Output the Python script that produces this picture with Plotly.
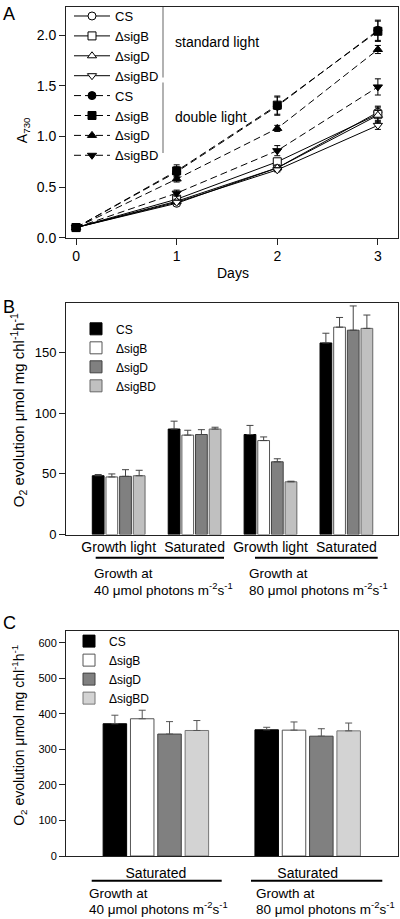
import plotly.graph_objects as go

# ---------------- data ----------------
days = [0, 1, 2, 3]
strains = ["CS", "ΔsigB", "ΔsigD", "ΔsigBD"]

# Panel A: A730, standard light (open symbols, solid lines)
std_cs = [0.10, 0.34, 0.69, 1.24]
std_sigb = [0.10, 0.38, 0.75, 1.22]
std_sigd = [0.10, 0.36, 0.69, 1.21]
std_sigbd = [0.10, 0.35, 0.67, 1.11]
std_cs_err = [0.01, 0.02, 0.03, 0.05]
std_sigb_err = [0.01, 0.03, 0.03, 0.08]
std_sigd_err = [0.01, 0.02, 0.03, 0.05]
std_sigbd_err = [0.01, 0.02, 0.02, 0.04]

# Panel A: double light (filled symbols, dashed lines)
dbl_cs = [0.10, 0.65, 1.30, 2.05]
dbl_sigb = [0.10, 0.66, 1.31, 2.04]
dbl_sigd = [0.10, 0.58, 1.08, 1.86]
dbl_sigbd = [0.10, 0.44, 0.86, 1.49]
dbl_cs_err = [0.01, 0.05, 0.09, 0.10]
dbl_sigb_err = [0.01, 0.06, 0.09, 0.10]
dbl_sigd_err = [0.01, 0.03, 0.03, 0.04]
dbl_sigbd_err = [0.01, 0.03, 0.05, 0.08]

# Panel B: O2 evolution
b_categories = ["Growth light", "Saturated", "Growth light", "Saturated"]
b_cs = [48.5, 87.0, 82.5, 158.0]
b_sigb = [47.5, 82.0, 77.5, 171.0]
b_sigd = [48.0, 82.5, 60.0, 168.5]
b_sigbd = [48.5, 87.0, 43.5, 170.0]
b_cs_err = [1.0, 6.5, 7.5, 8.0]
b_sigb_err = [2.5, 4.0, 3.0, 8.0]
b_sigd_err = [5.5, 4.0, 2.5, 20.0]
b_sigbd_err = [4.5, 1.5, 0.5, 11.0]

# Panel C: O2 evolution
c_categories = ["Saturated", "Saturated"]
c_cs = [372, 355]
c_sigb = [386, 354]
c_sigd = [343, 337]
c_sigbd = [353, 352]
c_cs_err = [24, 7]
c_sigb_err = [24, 23]
c_sigd_err = [35, 21]
c_sigbd_err = [28, 22]

growth_light = ["40", "80"]

# ---------------- layout helpers ----------------
W, H = 400, 919
ML, MR, MT, MB = 66, 2, 1, 63
PW = W - ML - MR
PH = H - MT - MB
FONT = "Arial, Liberation Sans, sans-serif"


def px_x(x):
    return (x - ML) / PW


def px_y(y):
    return (H - MB - y) / PH


fig = go.Figure()

# ---------------- Panel A ----------------
std_series = [std_cs, std_sigb, std_sigd, std_sigbd]
std_errs = [std_cs_err, std_sigb_err, std_sigd_err, std_sigbd_err]
dbl_series = [dbl_cs, dbl_sigb, dbl_sigd, dbl_sigbd]
dbl_errs = [dbl_cs_err, dbl_sigb_err, dbl_sigd_err, dbl_sigbd_err]
fill_symbols = ["circle", "square", "triangle-up", "triangle-down"]

for name, ys, es, sym in zip(strains, std_series, std_errs, fill_symbols):
    fig.add_trace(go.Scatter(
        x=days, y=ys, name=name, mode="lines+markers",
        line=dict(color="black", width=1),
        marker=dict(symbol=sym, size=8, color="white", line=dict(color="black", width=1)),
        error_y=dict(type="data", array=es, color="black", thickness=1, width=3),
        xaxis="x", yaxis="y", legend="legend",
    ))
for name, ys, es, sym in zip(strains, dbl_series, dbl_errs, fill_symbols):
    fig.add_trace(go.Scatter(
        x=days, y=ys, name=name, mode="lines+markers",
        line=dict(color="black", width=1, dash="7px,4px"),
        marker=dict(symbol=sym, size=8, color="black", line=dict(color="black", width=1)),
        error_y=dict(type="data", array=es, color="black", thickness=1, width=3),
        xaxis="x", yaxis="y", legend="legend",
    ))

# ---------------- Panel B ----------------
b_x = list(range(len(b_categories)))
b_series = [b_cs, b_sigb, b_sigd, b_sigbd]
b_errs = [b_cs_err, b_sigb_err, b_sigd_err, b_sigbd_err]
b_fill = ["#000000", "#ffffff", "#808080", "#c0c0c0"]
b_edge = ["#000000", "#555555", "#404040", "#666666"]
for name, ys, es, fc, ec in zip(strains, b_series, b_errs, b_fill, b_edge):
    fig.add_trace(go.Bar(
        x=b_x, y=ys, name=name,
        marker=dict(color=fc, line=dict(color=ec, width=1)),
        error_y=dict(type="data", symmetric=False, array=es, arrayminus=[0] * len(es),
                     color="#444444", thickness=1, width=3.5),
        xaxis="x2", yaxis="y2", legend="legend2",
    ))

# ---------------- Panel C ----------------
c_x = list(range(len(c_categories)))
c_series = [c_cs, c_sigb, c_sigd, c_sigbd]
c_errs = [c_cs_err, c_sigb_err, c_sigd_err, c_sigbd_err]
c_fill = ["#000000", "#ffffff", "#808080", "#d3d3d3"]
c_edge = ["#000000", "#555555", "#404040", "#777777"]
for name, ys, es, fc, ec in zip(strains, c_series, c_errs, c_fill, c_edge):
    fig.add_trace(go.Bar(
        x=c_x, y=ys, name=name,
        marker=dict(color=fc, line=dict(color=ec, width=1)),
        error_y=dict(type="data", symmetric=False, array=es, arrayminus=[0] * len(es),
                     color="#555555", thickness=1, width=3.5),
        xaxis="x3", yaxis="y3", legend="legend3",
    ))

axis_common = dict(showline=True, linecolor="#222222", linewidth=1, mirror=True,
                   showgrid=False, zeroline=False)

fig.update_layout(
    width=W, height=H,
    margin=dict(l=ML, r=MR, t=MT, b=MB),
    paper_bgcolor="white", plot_bgcolor="white",
    font=dict(family=FONT, color="black", size=13),
    barmode="group", bargap=0.28, bargroupgap=0.14,
    xaxis=dict(domain=[0, 1], anchor="y", range=[-0.1, 3.2], tickvals=days,
               ticks="outside", ticklen=6, tickcolor="#222222",
               tickfont=dict(size=14), **axis_common),
    yaxis=dict(domain=[px_y(233.3), px_y(1)], anchor="x", range=[0, 2.28],
               tickvals=[0, 0.5, 1.0, 1.5, 2.0], tickformat=".1f",
               ticks="outside", ticklen=6, tickcolor="#222222",
               tickfont=dict(size=14), **axis_common),
    xaxis2=dict(domain=[0, 1], anchor="y2", range=[-0.694, 3.68],
                tickmode="array", tickvals=b_x, ticktext=b_categories,
                ticks="", tickfont=dict(size=14), **axis_common),
    yaxis2=dict(domain=[px_y(532.3), px_y(299)], anchor="x2", range=[0, 191],
                tickvals=[0, 50, 100, 150], ticks="outside", ticklen=6,
                tickcolor="#222222", tickfont=dict(size=13), **axis_common),
    xaxis3=dict(domain=[0, 1], anchor="y3", range=[-0.592, 1.595],
                tickmode="array", tickvals=c_x, ticktext=c_categories,
                ticks="", ticklabelstandoff=4, tickfont=dict(size=14), **axis_common),
    yaxis3=dict(domain=[0, px_y(629)], anchor="x3", range=[0, 634],
                tickvals=[0, 100, 200, 300, 400, 500, 600], ticks="outside",
                ticklen=6, tickcolor="#222222", tickfont=dict(size=11), **axis_common),
    legend=dict(x=px_x(69), y=px_y(-5), xanchor="left", yanchor="top",
                bgcolor="rgba(0,0,0,0)", font=dict(size=13), tracegroupgap=0,
                itemwidth=36),
    legend2=dict(x=px_x(76), y=px_y(310.5), xanchor="left", yanchor="top",
                 bgcolor="rgba(0,0,0,0)", font=dict(size=12), tracegroupgap=0),
    legend3=dict(x=px_x(69), y=px_y(625), xanchor="left", yanchor="top",
                 bgcolor="rgba(0,0,0,0)", font=dict(size=12), tracegroupgap=0),
    showlegend=True,
)

annotations = []
shapes = []


def add_text(text, xpix, ypix, size, xanchor="left", angle=0):
    annotations.append(dict(text=text, xref="paper", yref="paper",
                            x=px_x(xpix), y=px_y(ypix), xanchor=xanchor, yanchor="middle",
                            showarrow=False, textangle=angle,
                            font=dict(size=size, family=FONT, color="black")))


# panel letters
add_text("A", 1, 8, 18)
add_text("B", 1, 303, 18)
add_text("C", 1, 621, 18)

# axis titles
add_text("A<sub>730</sub>", 23, 125, 14, xanchor="center", angle=-90)
add_text("Days", 233, 269, 14, xanchor="center")
ytitle = "O<sub>2</sub> evolution μmol mg chl<sup>-1</sup>h<sup>-1</sup>"
add_text(ytitle, 18, 407, 15, xanchor="center", angle=-90)
add_text(ytitle, 19, 735, 14, xanchor="center", angle=-90)

# legend group labels and brackets in panel A
add_text("standard light", 173, 36, 14)
add_text("double light", 173, 112, 14)
for y0, y1 in [(1, 72), (77, 148)]:
    shapes.append(dict(type="line", xref="paper", yref="paper",
                       x0=px_x(163), x1=px_x(163), y0=px_y(y0), y1=px_y(y1),
                       line=dict(color="#999999", width=1.5)))

# growth condition labels under panels B and C
for (x0, x1), tx, light in zip([(95.7, 224), (255, 377.7)], [91.7, 247.3], growth_light):
    shapes.append(dict(type="line", xref="paper", yref="paper",
                       x0=px_x(x0), x1=px_x(x1), y0=px_y(555.7), y1=px_y(555.7),
                       line=dict(color="black", width=2)))
    add_text("Growth at", tx, 571.7, 13.5)
    add_text(light + " μmol photons m<sup>-2</sup>s<sup>-1</sup>", tx, 587, 13.5)

for (x0, x1), tx, light in zip([(91.7, 221.7), (251, 382.3)], [87.3, 254], growth_light):
    shapes.append(dict(type="line", xref="paper", yref="paper",
                       x0=px_x(x0), x1=px_x(x1), y0=px_y(881), y1=px_y(881),
                       line=dict(color="black", width=2)))
    add_text("Growth at", tx, 894, 13.5)
    add_text(light + " μmol photons m<sup>-2</sup>s<sup>-1</sup>", tx, 908, 13.5)

fig.update_layout(annotations=annotations, shapes=shapes)

fig.write_html("out.html", config={"displayModeBar": False},
               post_script="document.body.style.margin='0px';document.body.style.padding='0px';")
